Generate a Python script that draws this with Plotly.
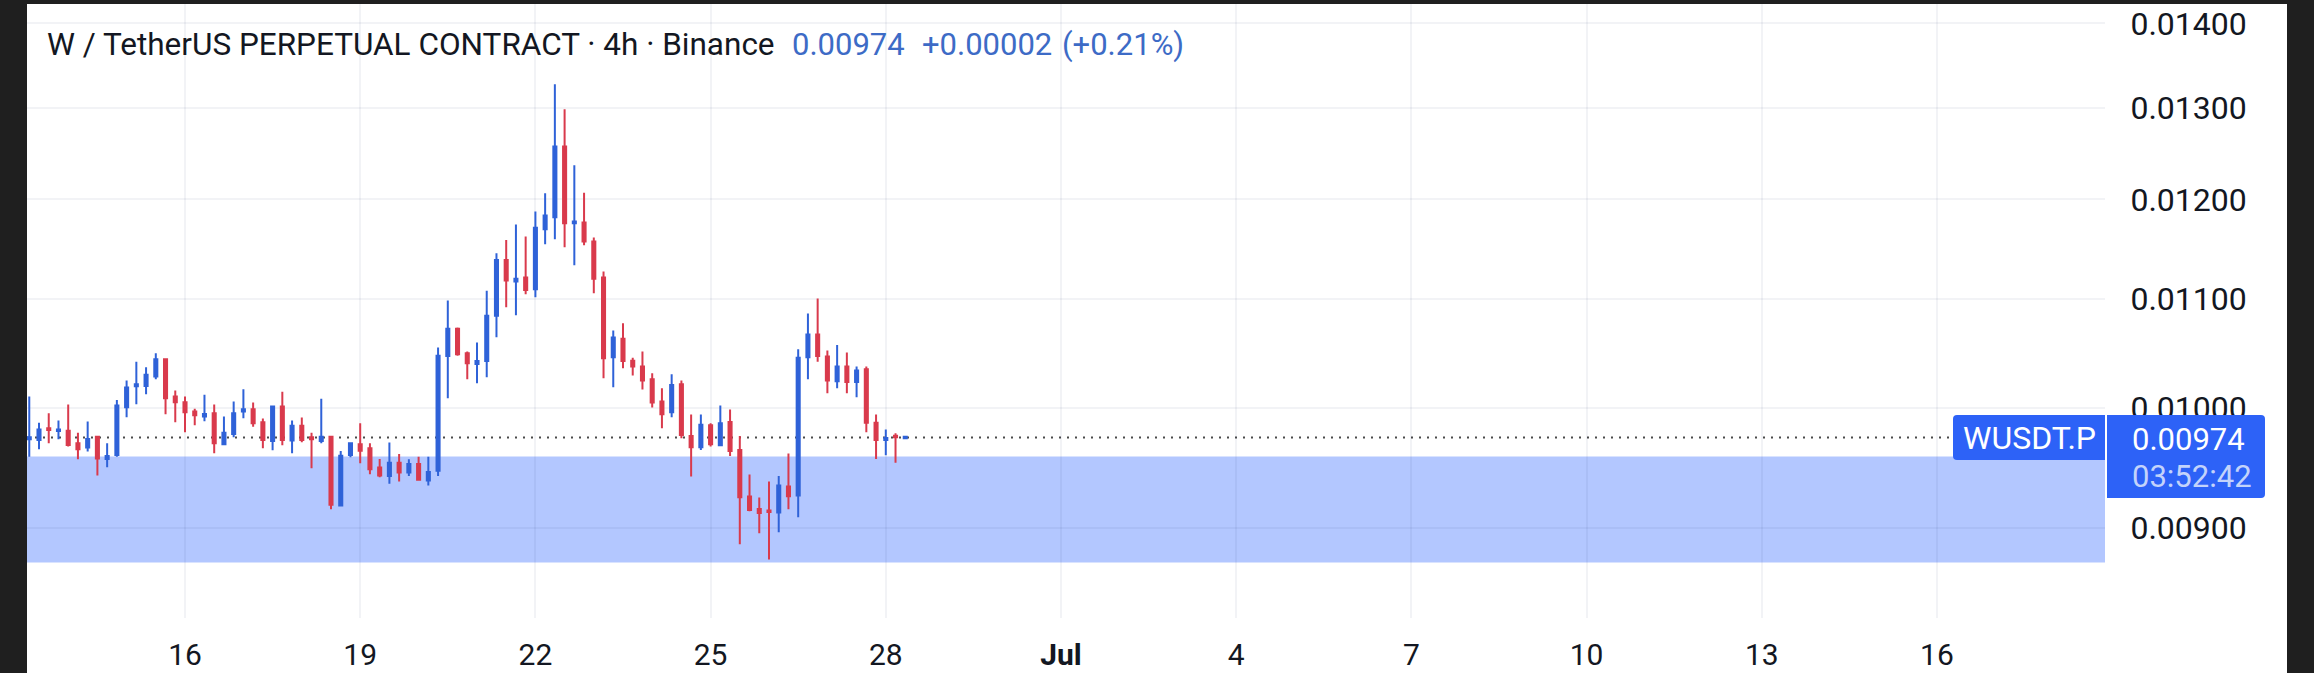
import plotly.graph_objects as go
import pandas as pd

# OHLC prices in millionths of USDT, one candle per 4 hours from 2024-06-13 08:00
open_e6 = [9725,9720,9819,9796,9799,9691,9655,9748,9558,9592,10002,10188,10191,10275,10431,10096,
           10046,9964,9921,9950,9683,9771,9964,9985,9871,9711,10008,9714,9842,9742,9711,9748,
           9177,9592,9683,9649,9487,9418,9528,9446,9517,9380,9460,10462,10715,10487,10389,10416,
           10836,11380,11167,11206,11091,11690,11814,12569,11752,11759,11565,11206,10449,10620,10419,10365,
           10251,10052,9959,10206,9754,9658,9845,9675,9874,9635,9249,9150,9137,9121,9331,9257,
           10449,10660,10456,10233,10365,10227,10341,9868,9720,9756,9734]
high_e6 = [10096,9868,9950,9886,10026,9782,9877,9754,9691,10067,10239,10410,10359,10487,10431,10149,
           10096,9988,10113,10026,9921,10052,10161,10043,9903,10008,10140,9886,9912,9782,10078,9754,
           9626,9697,9862,9691,9558,9697,9601,9556,9578,9578,10539,10982,10725,10502,10586,11078,
           11447,11582,11738,11616,11873,12064,13274,12987,12365,12071,11606,11265,10697,10766,10446,10502,
           10305,10170,10296,10239,9938,9938,9862,10017,9982,9754,9429,9241,9372,9418,9604,10523,
           10858,11001,10511,10564,10493,10365,10365,9938,9810,9776,9756]
low_e6 = [9578,9641,9691,9725,9663,9556,9621,9421,9490,9578,9915,10029,10116,10251,9941,9871,
          9785,9845,9880,9607,9675,9742,9906,9833,9649,9632,9675,9607,9700,9482,9691,9148,
          9169,9573,9523,9432,9408,9353,9372,9418,9380,9339,9418,10081,10465,10251,10215,10269,
          10635,10918,10842,11042,11014,11538,11589,11508,11328,11528,11052,10260,10179,10350,10284,10158,
          9999,9819,9915,9734,9413,9635,9663,9670,9584,8871,9131,8957,8754,8965,9148,9084,
          10251,10410,10125,10170,10125,10090,9785,9558,9590,9528,9728]
close_e6 = [9742,9810,9805,9810,9677,9641,9728,9564,9584,10017,10176,10206,10290,10431,10081,10046,
            9959,9932,9944,9691,9782,9950,9985,9862,9720,10008,9720,9842,9720,9725,9748,9183,
            9587,9691,9629,9473,9421,9528,9446,9517,9386,9451,10465,10715,10478,10395,10416,10836,
            11380,11177,11193,11085,11707,11832,12569,11752,11769,11565,11193,10440,10632,10416,10365,10239,
            10043,9941,10200,9762,9658,9850,9683,9862,9626,9244,9142,9118,9126,9339,9252,10446,
            10660,10462,10239,10365,10227,10329,9868,9720,9737,9742,9748]

first_candle = "2024-06-13 08:00"
x_range = ["2024-06-13 07:04", "2024-07-18 21:03"]
date_ticks = ["2024-06-16","2024-06-19","2024-06-22","2024-06-25","2024-06-28","2024-07-01",
              "2024-07-04","2024-07-07","2024-07-10","2024-07-13","2024-07-16"]
date_labels = ["16","19","22","25","28","<b>Jul</b>","4","7","10","13","16"]
price_ticks = [0.009,0.010,0.011,0.012,0.013,0.014]
price_labels = ["0.00900","0.01000","0.01100","0.01200","0.01300","0.01400"]
zone_top, zone_bottom = 0.00958, 0.00873
last_price = 0.00974

UP, DOWN = "#2f62d8", "#d93a4c"
BADGE = "#2d62f7"
DARK = "#1f1f1f"
GRID = "rgba(20,40,90,0.055)"
FONT = "Roboto, sans-serif"
W, H = 2314, 673
L, R, T, B = 27, 2105, 4, 618

def px(v): return (v - L) / (R - L)
def py(v): return (B - v) / (B - T)

def rbox(x0, y0, x1, y1, r_left, r_right):
    return (f"M {px(x0 + r_left)},{py(y0)} L {px(x1 - r_right)},{py(y0)} "
            f"Q {px(x1)},{py(y0)} {px(x1)},{py(y0 + r_right)} L {px(x1)},{py(y1 - r_right)} "
            f"Q {px(x1)},{py(y1)} {px(x1 - r_right)},{py(y1)} L {px(x0 + r_left)},{py(y1)} "
            f"Q {px(x0)},{py(y1)} {px(x0)},{py(y1 - r_left)} L {px(x0)},{py(y0 + r_left)} "
            f"Q {px(x0)},{py(y0)} {px(x0 + r_left)},{py(y0)} Z")

times = pd.date_range(first_candle, periods=len(open_e6), freq="4h")
fig = go.Figure(go.Candlestick(
    x=times,
    open=[v / 1e6 for v in open_e6], high=[v / 1e6 for v in high_e6],
    low=[v / 1e6 for v in low_e6], close=[v / 1e6 for v in close_e6],
    increasing=dict(line=dict(color=UP, width=2), fillcolor=UP),
    decreasing=dict(line=dict(color=DOWN, width=2), fillcolor=DOWN),
    whiskerwidth=0, hoverinfo="skip",
))

shapes = [
    dict(type="rect", xref="paper", yref="y", x0=0, x1=1, y0=zone_bottom, y1=zone_top,
         fillcolor="rgba(41,98,255,0.355)", line_width=0, layer="below"),
    dict(type="line", xref="paper", yref="y", x0=0, x1=px(1950), y0=last_price, y1=last_price,
         line=dict(color="#4a4a4a", width=2, dash="2px,6px"), layer="below"),
    dict(type="path", xref="paper", yref="paper", path=rbox(1953, 415, 2105, 460, 4, 0),
         fillcolor=BADGE, line_width=0),
    dict(type="path", xref="paper", yref="paper", path=rbox(2107, 415, 2265, 498, 0, 4),
         fillcolor=BADGE, line_width=0),
    dict(type="rect", xref="paper", yref="paper", x0=px(0), x1=px(27), y0=py(H), y1=py(0),
         fillcolor=DARK, line_width=0),
    dict(type="rect", xref="paper", yref="paper", x0=px(2287), x1=px(W), y0=py(H), y1=py(0),
         fillcolor=DARK, line_width=0),
    dict(type="rect", xref="paper", yref="paper", x0=px(0), x1=px(W), y0=py(4), y1=py(0),
         fillcolor=DARK, line_width=0),
]

def note(text, x, y, color, size, anchor="left"):
    return dict(text=text, xref="paper", yref="paper", x=px(x), y=py(y), xanchor=anchor,
                yanchor="middle", showarrow=False, align="left",
                font=dict(family=FONT, size=size, color=color))

TXT_BLUE = "#3d6bc6"
annotations = [
    note("W / TetherUS PERPETUAL CONTRACT · 4h · Binance", 45, 44, "#131722", 31.5),
    note("0.00974", 790, 44, TXT_BLUE, 31),
    note("+0.00002", 920, 44, TXT_BLUE, 31),
    note("(+0.21%)", 1060, 44, TXT_BLUE, 31),
    note("WUSDT.P", 2029, 438, "#ffffff", 32, "center"),
    note("0.00974", 2130, 439, "#ffffff", 31),
    note("03:52:42", 2130, 476, "#c3d3fb", 31),
]

fig.update_layout(
    width=W, height=H, autosize=False,
    margin=dict(l=L, r=W - R, t=T, b=H - B, pad=0, autoexpand=False),
    paper_bgcolor="white", plot_bgcolor="white", showlegend=False, boxgap=0.55,
    font=dict(family=FONT, color="#131722"),
    shapes=shapes, annotations=annotations,
    xaxis=dict(type="date", range=x_range, rangeslider_visible=False, tickmode="array",
               automargin=False,
               tickvals=date_ticks, ticktext=date_labels, showgrid=True, gridcolor=GRID,
               gridwidth=1.5, zeroline=False, showline=False, ticks="outside", ticklen=10,
               tickcolor="rgba(0,0,0,0)", tickfont=dict(family=FONT, size=30, color="#131722")),
    yaxis=dict(type="log", range=[-2.0801, -1.84646], side="right", tickmode="array",
               automargin=False,
               tickvals=price_ticks, ticktext=price_labels, showgrid=True, gridcolor=GRID,
               gridwidth=1.5, zeroline=False, showline=False, ticks="outside", ticklen=18,
               tickcolor="rgba(0,0,0,0)", tickfont=dict(family=FONT, size=32, color="#131722")),
)

fig.write_html("out.html", config=dict(displayModeBar=False),
               post_script="document.body.style.margin='0';document.body.style.overflow='hidden';")
